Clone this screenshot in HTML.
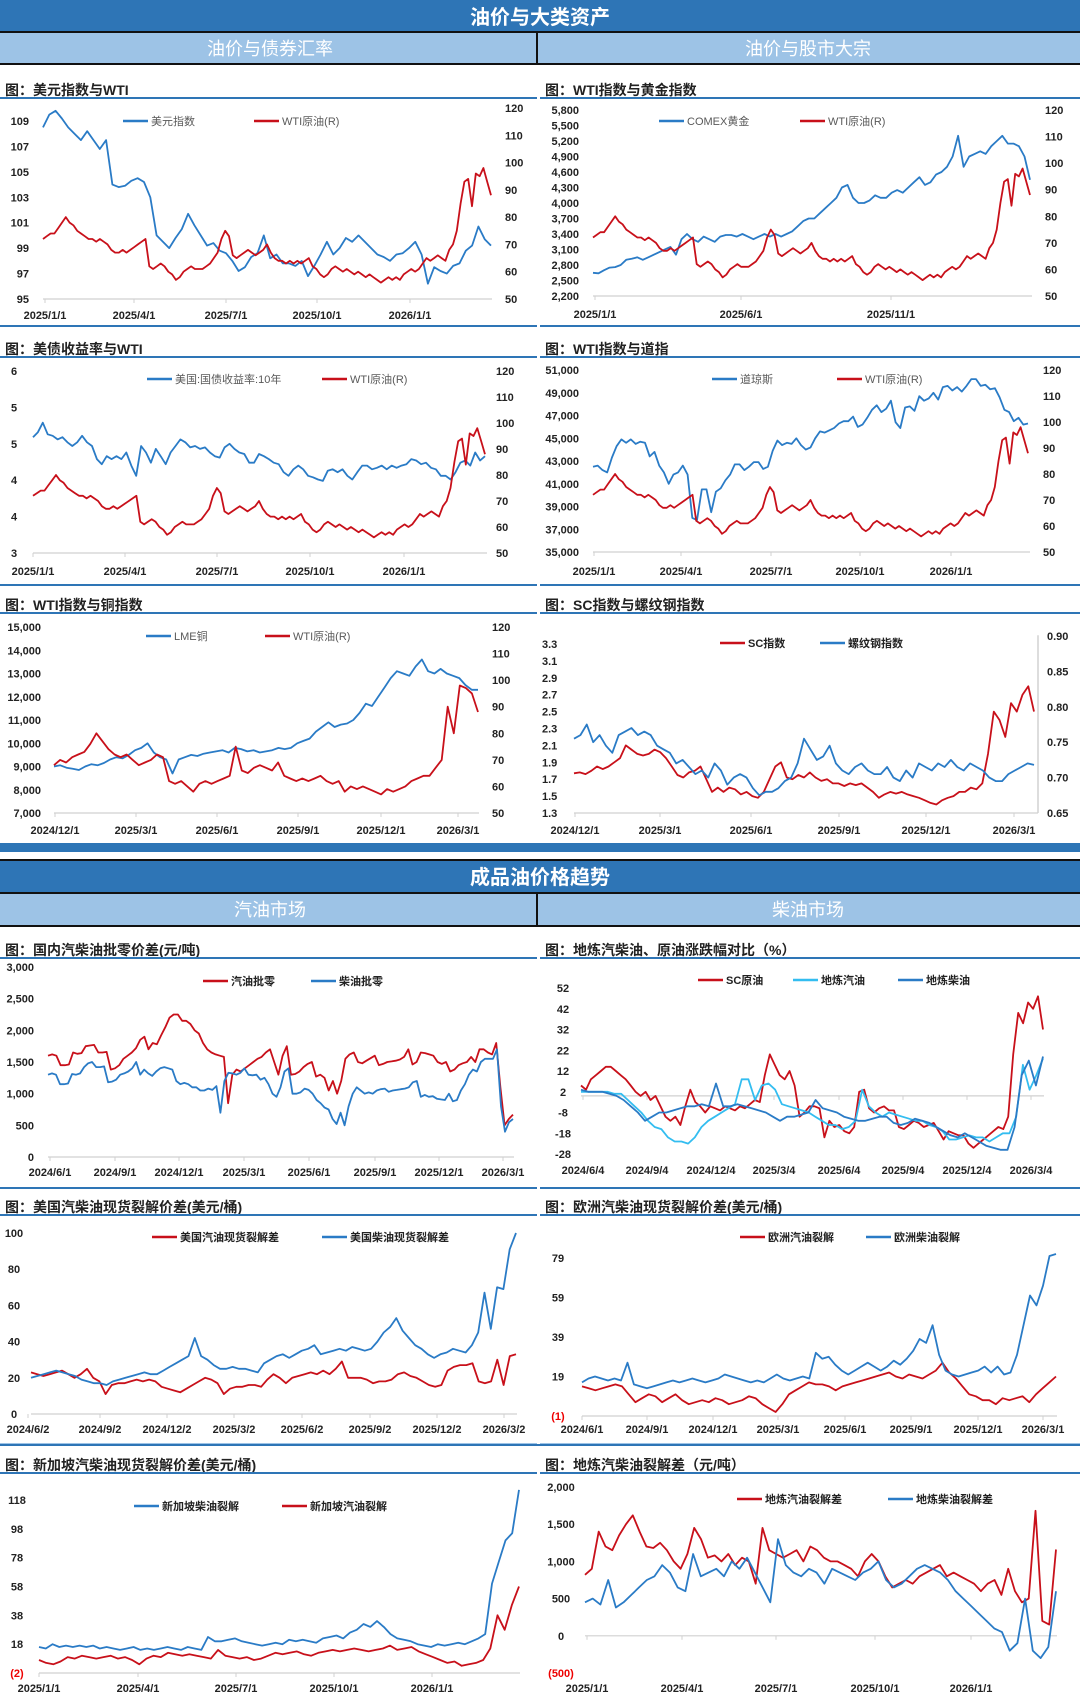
<!DOCTYPE html>
<html><head><meta charset="utf-8"><style>
html,body{margin:0;padding:0;background:#fff;}
svg{display:block;font-family:"Liberation Sans","Noto Sans CJK SC",sans-serif;}
.tk{font-size:11px;font-weight:bold;fill:#222;}
.lg{font-size:11px;fill:#595959;}
.lgd{font-size:11px;fill:#222;font-weight:bold;}
.tt{font-size:14px;font-weight:bold;fill:#222;}
</style></head><body>
<svg id="root" width="1080" height="1701" viewBox="0 0 1080 1701">
<g>
<rect x="0" y="0" width="1080" height="31" fill="#2e75b6"/>
<text x="540" y="24" text-anchor="middle" fill="#fff" font-size="20" font-weight="bold">油价与大类资产</text>
<rect x="0" y="31" width="1080" height="2" fill="#111"/>
<rect x="0" y="33" width="1080" height="30" fill="#9dc3e6"/>
<text x="270" y="55" text-anchor="middle" fill="#fff" font-size="18">油价与债券汇率</text>
<text x="808" y="55" text-anchor="middle" fill="#fff" font-size="18">油价与股市大宗</text>
<rect x="0" y="63" width="1080" height="2" fill="#111"/>
<rect x="536" y="33" width="2" height="30" fill="#111"/>
</g>
<g>
<rect x="0" y="843" width="1080" height="9" fill="#2e75b6"/>
<rect x="0" y="859" width="1080" height="2" fill="#111"/>
<rect x="0" y="861" width="1080" height="31" fill="#2e75b6"/>
<text x="540" y="884" text-anchor="middle" fill="#fff" font-size="20" font-weight="bold">成品油价格趋势</text>
<rect x="0" y="892" width="1080" height="2" fill="#111"/>
<rect x="0" y="894" width="1080" height="31" fill="#9dc3e6"/>
<text x="270" y="916" text-anchor="middle" fill="#fff" font-size="18">汽油市场</text>
<text x="808" y="916" text-anchor="middle" fill="#fff" font-size="18">柴油市场</text>
<rect x="0" y="925" width="1080" height="2" fill="#111"/>
<rect x="536" y="894" width="2" height="31" fill="#111"/>
</g>
</svg>
<script>
// ---- data arrays ----
const wti2025 = [72,73,74,74,76,78,80,78,77,75,74,73,72,72,71,72,71,70,68,67,67,68,67,68,69,70,71,72,62,61,62,63,62,60,59,57,58,60,61,62,61,61,61,62,63,65,67,72,75,73,66,65,66,67,68,67,66,67,68,70,67,65,64,64,63,64,63,64,63,64,65,62,61,59,58,59,61,62,61,60,61,60,59,60,59,58,59,58,57,56,57,58,57,58,57,59,60,61,60,61,63,65,64,65,66,65,64,68,70,75,85,93,94,84,96,95,98,93,88];
const dxyValues = [108.5,109.5,109.8,109.2,108.5,108,107.5,108.2,107.5,106.8,107.5,104,103.8,103.9,104.3,104.5,104.2,103,100,99.5,99,99.8,100.5,101.7,100.8,100,99.2,99.4,98.8,98.6,98,97.2,97.5,98.3,98.6,100,98.2,98.5,97.8,97.8,97.6,98,96.8,97.6,98.5,99.5,98.5,99,99.8,99.5,100,99.5,99,98.5,98.3,98.0,98.5,98.6,99.0,99.5,98.5,96.2,97.5,97.2,97.0,97.6,97.8,98.8,99.2,100.7,99.7,99.2];
const goldValues = [2650,2640,2700,2750,2760,2800,2900,2920,2950,2900,2950,3000,3050,3100,3150,3000,3300,3400,3300,3250,3350,3300,3250,3350,3380,3380,3350,3400,3350,3300,3350,3400,3350,3400,3350,3400,3450,3550,3650,3700,3700,3800,3900,4000,4100,4300,4350,4100,4000,4000,4050,4150,4100,4100,4200,4250,4200,4300,4400,4500,4350,4400,4550,4600,4700,4900,5300,4700,4900,4950,5000,4950,5100,5200,5300,5150,5150,5100,4900,4450];
const yieldValues = [4.59,4.66,4.79,4.63,4.61,4.56,4.59,4.52,4.47,4.52,4.61,4.52,4.47,4.29,4.22,4.33,4.29,4.33,4.29,4.38,4.20,4.06,4.47,4.38,4.24,4.43,4.33,4.22,4.38,4.47,4.56,4.52,4.45,4.47,4.43,4.45,4.38,4.33,4.31,4.45,4.50,4.43,4.38,4.36,4.24,4.24,4.36,4.33,4.29,4.24,4.22,4.11,4.06,4.15,4.20,4.15,4.06,4.04,4.01,3.99,4.13,4.15,4.11,4.15,4.06,4.01,4.11,4.20,4.20,4.15,4.17,4.20,4.15,4.20,4.17,4.20,4.22,4.29,4.27,4.22,4.24,4.17,4.15,4.06,4.06,4.01,4.11,4.24,4.27,4.20,4.38,4.27,4.33];
const dowValues = [42500,42600,42200,42000,43300,44300,44900,44600,44900,44500,44700,44600,43400,43800,42600,42000,41000,41800,42000,42600,41800,38000,37800,40500,40500,38500,40300,40600,41300,41800,42700,42700,42200,42500,42900,42900,42300,42500,43900,44800,44400,44600,44500,45000,44400,44000,44200,45000,45600,45500,45700,45900,46300,46500,46500,46900,46000,46200,46800,47500,47900,47300,47600,48300,46400,45900,47700,47800,47400,48700,48300,48500,49000,48400,49500,49600,49200,49500,49100,49600,50200,50200,49600,49700,49300,49400,48600,47500,47300,46500,46800,46200,46300];
const copperValues = [9000,9050,8950,8900,8850,9000,9100,9050,9150,9300,9400,9350,9500,9700,9800,10000,9600,9400,9300,8700,9300,9400,9500,9450,9550,9600,9650,9700,9600,9800,9750,9650,9700,9600,9650,9700,9800,9750,9800,10000,10100,10200,10500,10700,10900,10700,10800,10850,11000,11300,11700,11600,12000,12400,12800,13100,13000,12900,13300,13600,13100,13000,13200,13000,12900,12800,12500,12300,12300];
const wtiCopper = [68,70,69,71,72,73,76,80,77,74,72,71,72,70,68,69,70,72,71,62,61,62,60,58,61,62,61,62,63,64,75,66,65,67,68,67,66,69,64,63,62,63,62,63,64,62,61,62,58,60,59,60,59,58,57,59,58,59,60,62,63,64,64,67,70,90,80,98,97,95,88];
const scValues = [1.77,1.78,1.76,1.8,1.85,1.82,1.85,1.9,1.95,2.1,2.05,2.0,1.98,2.0,2.05,2.02,1.95,1.85,1.75,1.72,1.78,1.8,1.85,1.7,1.55,1.6,1.55,1.6,1.58,1.52,1.55,1.5,1.48,1.55,1.7,1.85,1.9,1.72,1.7,1.75,1.72,1.78,1.72,1.68,1.7,1.65,1.65,1.62,1.65,1.63,1.65,1.6,1.55,1.48,1.52,1.55,1.53,1.55,1.52,1.5,1.48,1.45,1.42,1.4,1.45,1.48,1.5,1.55,1.55,1.6,1.58,1.65,2.0,2.5,2.4,2.2,2.6,2.5,2.7,2.8,2.5];
const rebarValues = [0.755,0.76,0.775,0.75,0.76,0.745,0.735,0.76,0.765,0.77,0.76,0.765,0.76,0.745,0.74,0.735,0.72,0.725,0.715,0.705,0.71,0.70,0.72,0.71,0.69,0.70,0.705,0.7,0.685,0.675,0.68,0.68,0.685,0.695,0.70,0.72,0.755,0.74,0.725,0.73,0.745,0.72,0.71,0.705,0.715,0.72,0.71,0.705,0.705,0.715,0.70,0.695,0.71,0.70,0.72,0.715,0.71,0.72,0.715,0.725,0.715,0.71,0.72,0.715,0.71,0.70,0.695,0.695,0.705,0.71,0.715,0.72,0.718];
const gasRetail = [1600,1620,1600,1450,1450,1460,1650,1630,1640,1750,1760,1770,1650,1650,1660,1380,1400,1450,1550,1600,1650,1720,1850,1900,1700,1800,1780,1920,2050,2200,2250,2250,2150,2150,2100,2000,1950,1800,1700,1650,1620,1600,1580,850,1300,1380,1350,1400,1450,1500,1550,1580,1650,1700,1500,1300,1600,1750,1300,1310,1350,1420,1470,1500,1270,1300,1250,1050,1200,1000,1200,1550,1620,1650,1500,1480,1520,1560,1600,1450,1470,1500,1510,1520,1540,1580,1700,1460,1500,1650,1640,1620,1600,1500,1470,1500,1350,1380,1450,1480,1500,1580,1500,1700,1700,1650,1620,1800,1100,500,600,670];
const dieselRetail = [1300,1320,1300,1150,1150,1160,1310,1300,1320,1420,1480,1500,1420,1420,1430,1180,1190,1220,1300,1320,1350,1400,1500,1300,1380,1320,1280,1350,1400,1420,1400,1380,1200,1150,1170,1150,1100,1100,1050,1050,1080,1060,1120,700,1200,1330,1320,1300,1330,1400,1300,1290,1300,1220,1250,1150,1000,950,1100,1350,1400,1000,1000,1020,1080,1060,1000,900,850,780,750,600,520,700,500,800,1000,1100,1050,1000,1020,1000,1050,1070,1080,1030,1050,1060,1070,1080,1100,1180,1200,950,980,950,960,920,910,900,1000,880,900,1050,1150,1300,1380,1350,1500,1550,1550,1550,1700,800,400,550,600];
const scPct = [5,3,8,10,12,14,14,12,10,8,5,2,0,2,-2,0,-5,-10,-12,-10,-14,-5,3,-3,-5,-8,-5,-6,-7,-5,-6,-7,-5,-6,-4,-2,-3,10,20,15,10,8,12,5,-10,-8,-5,-5,-6,-20,-12,-15,-14,-17,-18,-15,2,3,-6,-8,-6,-5,-7,-7,-15,-16,-14,-12,-13,-15,-14,-13,-17,-21,-17,-18,-19,-19,-23,-25,-23,-21,-19,-17,-15,-16,-10,20,40,35,45,42,48,32];
const localGasPct = [2,2,2,2,2,1,1,-2,-5,-8,-12,-15,-16,-20,-22,-22,-23,-20,-15,-12,-10,-8,-6,-4,8,8,-2,5,6,3,-4,-5,-6,-7,-8,-10,-12,-14,-14,-16,-15,-12,3,-5,-8,-10,-8,-9,-10,-11,-12,-12,-14,-15,-17,-21,-21,-20,-19,-20,-20,-22,-20,-18,-18,-10,15,3,10,18];
const localDieselPct = [3,2,2,2,1,0,-2,-5,-8,-12,-10,-8,-8,-7,-6,-5,-5,-4,-5,6,-5,-5,-4,-5,-6,-7,-8,-10,-12,-10,-10,-9,-8,-2,-6,-7,-8,-10,-11,-12,-12,-11,-10,-10,-13,-14,-13,-11,-12,-13,-15,-17,-19,-20,-18,-20,-22,-24,-25,-26,-26,-15,10,17,5,19];
const usGasCrack = [23,22,21,22,23,24,22,20,22,25,20,18,11,16,17,17,18,19,18,19,18,15,14,13,12,14,16,18,20,19,17,11,14,15,15,16,16,15,19,22,20,17,20,21,22,23,22,24,22,25,29,20,20,20,19,17,18,18,19,22,23,21,20,18,16,15,16,24,26,27,27,28,18,17,18,30,16,32,33];
const usDieselCrack = [20,21,22,23,24,23,22,21,19,18,17,17,16,18,19,20,21,22,23,22,22,24,26,28,30,32,42,32,30,27,25,25,26,25,25,24,23,28,30,32,33,31,33,35,36,38,33,34,35,36,35,37,36,35,36,40,45,48,53,46,42,38,36,33,31,33,34,36,35,34,38,45,67,47,70,69,91,100];
const euGasCrack = [14,13,12,13,14,15,14,10,6,8,10,9,6,8,10,7,5,6,7,6,8,7,5,6,7,9,8,5,3,1,5,10,12,14,16,15,15,14,12,14,15,16,17,18,19,20,21,19,18,20,19,18,20,22,26,21,18,14,10,9,7,7,5,8,7,8,9,6,10,13,16,19];
const euDieselCrack = [16,18,19,18,17,18,17,26,15,14,13,14,15,16,17,16,17,18,17,16,17,18,20,19,18,17,16,17,16,18,20,18,17,18,19,18,31,28,29,25,22,20,22,24,26,24,22,24,27,25,28,32,38,36,45,30,22,20,19,20,21,22,24,21,24,20,21,30,45,60,55,65,80,81];
const sgDieselCrack = [16,15,18,16,17,16,17,16,17,15,16,15,14,15,16,14,15,14,15,16,15,14,16,15,14,23,20,20,21,22,20,19,18,17,18,19,18,21,20,21,20,19,22,23,24,22,26,28,32,30,34,30,25,22,21,20,18,17,16,18,17,18,19,18,20,22,25,60,75,90,95,125];
const sgGasCrack = [7,5,4,6,9,8,10,9,8,9,10,8,9,7,4,8,10,9,12,11,10,11,10,9,8,14,10,9,8,9,7,8,10,12,11,12,13,11,10,12,13,14,13,14,15,14,13,14,15,17,14,15,16,13,11,9,7,5,6,3,4,5,7,15,38,28,45,58];
const localGasCrack = [820,900,1400,1200,1150,1350,1500,1620,1400,1200,1180,1250,1150,1000,900,1100,1450,1300,1050,1080,1000,1100,950,1050,1000,700,1450,1150,1100,1050,1100,1150,1000,1200,1150,1050,1000,1000,950,900,800,1000,1100,1000,800,650,700,750,700,800,850,900,950,800,850,800,750,700,600,700,750,550,900,600,450,500,1680,200,150,1160];
const localDieselCrack = [450,500,420,750,380,450,550,650,750,800,950,850,650,600,1100,800,850,900,800,1000,900,1050,850,650,450,1300,950,850,800,900,850,700,900,850,800,750,850,900,1000,750,650,700,800,900,950,900,850,750,600,500,400,300,200,100,50,-200,-100,500,-200,-300,-150,600];
const xTicks2025 = ["2025/1/1","2025/4/1","2025/7/1","2025/10/1","2026/1/1"];
const xTicksGold = ["2025/1/1","2025/6/1","2025/11/1"];
const xTicksCopper = ["2024/12/1","2025/3/1","2025/6/1","2025/9/1","2025/12/1","2026/3/1"];
const xTicksRetail = ["2024/6/1","2024/9/1","2024/12/1","2025/3/1","2025/6/1","2025/9/1","2025/12/1","2026/3/1"];
const xTicksPct = ["2024/6/4","2024/9/4","2024/12/4","2025/3/4","2025/6/4","2025/9/4","2025/12/4","2026/3/4"];
const xTicksUS = ["2024/6/2","2024/9/2","2024/12/2","2025/3/2","2025/6/2","2025/9/2","2025/12/2","2026/3/2"];

const NS='http://www.w3.org/2000/svg';
const root=document.getElementById('root');
const BLUE='#2a7bc6', RED='#c8101a', LBLUE='#33bdf0';
function mk(tag,parent,attrs){const e=document.createElementNS(NS,tag);for(const k in attrs)e.setAttribute(k,attrs[k]);parent.appendChild(e);return e;}
function scale(vA,pA,vB,pB){return v=>pA+(v-vA)*(pB-pA)/(vB-vA);}
function fmt(v,d,minus){let s=Math.abs(v).toFixed(d).replace(/\B(?=(\d{3})+(?!\d))/g,',');if(v<0)return minus?'-'+s:'('+s+')';return s;}

function drawChart(c){
  const g=mk('g',root,{});
  
  
  const t=mk('text',g,{x:c.px+5,y:c.titleY,class:'tt'});t.textContent=c.title;
  
  
  mk('rect',g,{x:c.px,y:c.titleY+2,width:c.pw,height:2,fill:'#2e75b6'});
  if(c.bottomY){mk('rect',g,{x:c.px,y:c.bottomY,width:c.pw,height:2,fill:c.bottomColor||'#2e75b6'});}
  const yl=scale(c.L.a,c.L.pa,c.L.b,c.L.pb);
  for(let v=c.L.min;v<=c.L.max+1e-9;v+=c.L.step){
    const lab=c.L.labels?c.L.labels[Math.round((v-c.L.min)/c.L.step)]:fmt(v,c.L.dec||0,c.L.minus);
    const tx=mk('text',g,{x:c.L.x,y:yl(v)+4,class:'tk','text-anchor':c.L.anchor||'end'});
    if(v<0&&c.L.redNeg)tx.setAttribute('style','fill:#e00');
    tx.textContent=lab;
    
    
  }
  let yr=null;
  if(c.R){
    yr=scale(c.R.a,c.R.pa,c.R.b,c.R.pb);
    for(let v=c.R.min;v<=c.R.max+1e-9;v+=c.R.step){
      const tx=mk('text',g,{x:c.R.x,y:yr(v)+4,class:'tk','text-anchor':'start'});
      tx.textContent=fmt(v,c.R.dec||0);
      
      
    }
    if(c.R.line)mk('line',g,{x1:c.R.line,x2:c.R.line,y1:yr(c.R.max),y2:yr(c.R.min),stroke:'#bbb','stroke-width':1});
  }
  const by=c.baseVal!==undefined?yl(c.baseVal):yl(c.L.min);
  const axis=mk('line',g,{x1:c.x0,x2:c.x1,y1:by,y2:by,stroke:'#d0d0d0','stroke-width':1.2});
  
  
  c.xLabels.forEach((lab,i)=>{
    const xx=c.xPos[i];
    mk('line',g,{x1:xx,x2:xx,y1:by,y2:by+4,stroke:'#d0d0d0'});
    const tx=mk('text',g,{x:xx,y:c.xLabelY,class:'tk','text-anchor':'middle'});
    tx.textContent=lab;
    
    
  });
  c.series.forEach(s=>{
    const ys=s.axis==='R'?yr:yl;
    const xs=scale(0,c.dx0,s.data.length-1,c.dx1);
    const d=s.data.map((v,i)=>(i?'L':'M')+xs(i).toFixed(1)+','+ys(v).toFixed(1)).join('');
    const p=mk('path',g,{d:d,fill:'none',stroke:s.color,'stroke-width':1.8,'stroke-linejoin':'round'});
    
    
    const lx=s.lx, ly=c.legendY;
    const lg=mk('g',g,{});
    
    
    mk('line',lg,{x1:lx,x2:lx+25,y1:ly,y2:ly,stroke:s.color,'stroke-width':2.5});
    const lt=mk('text',lg,{x:lx+28,y:ly+4,class:c.darkLegend?'lgd':'lg'});lt.textContent=s.label;
  });
}

drawChart({name:'chart-dxy-wti',title:'图：美元指数与WTI',px:0,pw:537,titleY:95,bottomY:325,
  L:{a:95,pa:299,b:109,pb:121,min:95,max:109,step:2,x:29},
  R:{a:50,pa:299,b:120,pb:108,min:50,max:120,step:10,x:505},
  x0:43,x1:492,dx0:43,dx1:491,xLabels:xTicks2025,xPos:[45,134,226,317,410],xLabelY:319,legendY:121,
  series:[{key:'dxy',label:'美元指数',data:dxyValues,axis:'L',color:BLUE,lx:123},
          {key:'wti',label:'WTI原油(R)',data:wti2025,axis:'R',color:RED,lx:254}]});
drawChart({name:'chart-gold-wti',title:'图：WTI指数与黄金指数',px:540,pw:540,titleY:95,bottomY:325,
  L:{a:2200,pa:296,b:5800,pb:110,min:2200,max:5800,step:300,x:579},
  R:{a:50,pa:296,b:120,pb:110,min:50,max:120,step:10,x:1045},
  x0:593,x1:1032,dx0:593,dx1:1030,xLabels:xTicksGold,xPos:[595,741,891],xLabelY:318,legendY:121,
  series:[{key:'gold',label:'COMEX黄金',data:goldValues,axis:'L',color:BLUE,lx:659},
          {key:'wti',label:'WTI原油(R)',data:wti2025,axis:'R',color:RED,lx:800}]});
drawChart({name:'chart-yield-wti',title:'图：美债收益率与WTI',px:0,pw:537,titleY:354,bottomY:584,
  L:{a:3,pa:553,b:5.5,pb:371,min:3,max:5.5,step:0.5,x:14,anchor:'middle',labels:["3","4","4","5","5","6"]},
  R:{a:50,pa:553,b:120,pb:371,min:50,max:120,step:10,x:496},
  x0:33,x1:487,dx0:33,dx1:485,xLabels:xTicks2025,xPos:[33,125,217,310,404],xLabelY:575,legendY:379,
  series:[{key:'us10y',label:'美国:国债收益率:10年',data:yieldValues,axis:'L',color:BLUE,lx:147},
          {key:'wti',label:'WTI原油(R)',data:wti2025,axis:'R',color:RED,lx:322}]});
drawChart({name:'chart-dow-wti',title:'图：WTI指数与道指',px:540,pw:540,titleY:354,bottomY:584,
  L:{a:35000,pa:552,b:51000,pb:370,min:35000,max:51000,step:2000,x:579},
  R:{a:50,pa:552,b:120,pb:370,min:50,max:120,step:10,x:1043},
  x0:593,x1:1030,dx0:593,dx1:1028,xLabels:xTicks2025,xPos:[594,681,771,860,951],xLabelY:575,legendY:379,
  series:[{key:'dow',label:'道琼斯',data:dowValues,axis:'L',color:BLUE,lx:712},
          {key:'wti',label:'WTI原油(R)',data:wti2025,axis:'R',color:RED,lx:837}]});
drawChart({name:'chart-copper-wti',title:'图：WTI指数与铜指数',px:0,pw:537,titleY:610,
  L:{a:7000,pa:813,b:15000,pb:627,min:7000,max:15000,step:1000,x:41},
  R:{a:50,pa:813,b:120,pb:627,min:50,max:120,step:10,x:492},
  x0:54,x1:479,dx0:54,dx1:478,xLabels:xTicksCopper,xPos:[55,136,217,298,381,458],xLabelY:834,legendY:636,
  series:[{key:'lme-copper',label:'LME铜',data:copperValues,axis:'L',color:BLUE,lx:146},
          {key:'wti',label:'WTI原油(R)',data:wtiCopper,axis:'R',color:RED,lx:265}]});
drawChart({name:'chart-sc-rebar',title:'图：SC指数与螺纹钢指数',px:540,pw:540,titleY:610,darkLegend:true,
  L:{a:1.3,pa:813,b:3.3,pb:644,min:1.3,max:3.31,step:0.2,x:542,anchor:'start',dec:1},
  R:{a:0.65,pa:813,b:0.90,pb:636,min:0.65,max:0.901,step:0.05,x:1047,dec:2,line:1038},
  x0:574,x1:1038,dx0:574,dx1:1034,xLabels:xTicksCopper,xPos:[575,660,751,839,926,1014],xLabelY:834,legendY:643,
  series:[{key:'sc',label:'SC指数',data:scValues,axis:'L',color:RED,lx:720},
          {key:'rebar',label:'螺纹钢指数',data:rebarValues,axis:'R',color:BLUE,lx:820}]});
drawChart({name:'chart-retail-spread',title:'图：国内汽柴油批零价差(元/吨)',px:0,pw:537,titleY:955,bottomY:1187,darkLegend:true,
  L:{a:0,pa:1157,b:3000,pb:967,min:0,max:3000,step:500,x:34},
  x0:48,x1:514,dx0:48,dx1:513,xLabels:xTicksRetail,xPos:[50,115,179,244,309,375,439,503],xLabelY:1176,legendY:981,
  series:[{key:'gasoline-retail',label:'汽油批零',data:gasRetail,axis:'L',color:RED,lx:203},
          {key:'diesel-retail',label:'柴油批零',data:dieselRetail,axis:'L',color:BLUE,lx:311}]});
drawChart({name:'chart-change-pct',title:'图：地炼汽柴油、原油涨跌幅对比（%）',px:540,pw:540,titleY:955,bottomY:1187,darkLegend:true,
  L:{a:-28,pa:1154,b:52,pb:988,min:-28,max:52,step:10,x:563,anchor:'middle',minus:true},baseVal:0,
  x0:581,x1:1044,dx0:581,dx1:1043,xLabels:xTicksPct,xPos:[583,647,711,774,839,903,967,1031],xLabelY:1174,legendY:980,
  series:[{key:'sc-crude',label:'SC原油',data:scPct,axis:'L',color:RED,lx:698},
          {key:'local-gasoline',label:'地炼汽油',data:localGasPct,axis:'L',color:LBLUE,lx:793},
          {key:'local-diesel',label:'地炼柴油',data:localDieselPct,axis:'L',color:BLUE,lx:898}]});
drawChart({name:'chart-us-crack',title:'图：美国汽柴油现货裂解价差(美元/桶)',px:0,pw:537,titleY:1212,bottomY:1443,bottomColor:'#9dc3e6',darkLegend:true,
  L:{a:0,pa:1414,b:100,pb:1233,min:0,max:100,step:20,x:14,anchor:'middle'},
  x0:31,x1:517,dx0:31,dx1:516,xLabels:xTicksUS,xPos:[28,100,167,234,302,370,437,504],xLabelY:1433,legendY:1237,
  series:[{key:'us-gasoline-crack',label:'美国汽油现货裂解差',data:usGasCrack,axis:'L',color:RED,lx:152},
          {key:'us-diesel-crack',label:'美国柴油现货裂解差',data:usDieselCrack,axis:'L',color:BLUE,lx:322}]});
drawChart({name:'chart-eu-crack',title:'图：欧洲汽柴油现货裂解价差(美元/桶)',px:540,pw:540,titleY:1212,bottomY:1443,bottomColor:'#9dc3e6',darkLegend:true,
  L:{a:-1,pa:1416,b:79,pb:1258,min:-1,max:79,step:20,x:558,anchor:'middle',redNeg:true},
  x0:582,x1:1057,dx0:582,dx1:1056,xLabels:xTicksRetail,xPos:[582,647,713,778,845,911,978,1043],xLabelY:1433,legendY:1237,
  series:[{key:'eu-gasoline-crack',label:'欧洲汽油裂解',data:euGasCrack,axis:'L',color:RED,lx:740},
          {key:'eu-diesel-crack',label:'欧洲柴油裂解',data:euDieselCrack,axis:'L',color:BLUE,lx:866}]});
drawChart({name:'chart-sg-crack',title:'图：新加坡汽柴油现货裂解价差(美元/桶)',px:0,pw:537,titleY:1470,darkLegend:true,
  L:{a:-2,pa:1673,b:118,pb:1500,min:-2,max:118,step:20,x:17,anchor:'middle',redNeg:true},
  x0:39,x1:520,dx0:39,dx1:519,xLabels:xTicks2025,xPos:[39,138,236,334,432],xLabelY:1692,legendY:1506,
  series:[{key:'sg-diesel-crack',label:'新加坡柴油裂解',data:sgDieselCrack,axis:'L',color:BLUE,lx:134},
          {key:'sg-gasoline-crack',label:'新加坡汽油裂解',data:sgGasCrack,axis:'L',color:RED,lx:282}]});
drawChart({name:'chart-local-crack',title:'图：地炼汽柴油裂解差（元/吨）',px:540,pw:540,titleY:1470,darkLegend:true,
  L:{a:-500,pa:1673,b:2000,pb:1487,min:-500,max:2000,step:500,x:561,anchor:'middle',redNeg:true},baseVal:0,
  x0:585,x1:1057,dx0:585,dx1:1056,xLabels:xTicks2025,xPos:[587,682,776,875,971],xLabelY:1692,legendY:1499,
  series:[{key:'local-gasoline-crack',label:'地炼汽油裂解差',data:localGasCrack,axis:'L',color:RED,lx:737},
          {key:'local-diesel-crack',label:'地炼柴油裂解差',data:localDieselCrack,axis:'L',color:BLUE,lx:888}]});
mk('rect',root,{x:0,y:1444,width:1080,height:2,fill:'#2e75b6'});
</script>
</body></html>
